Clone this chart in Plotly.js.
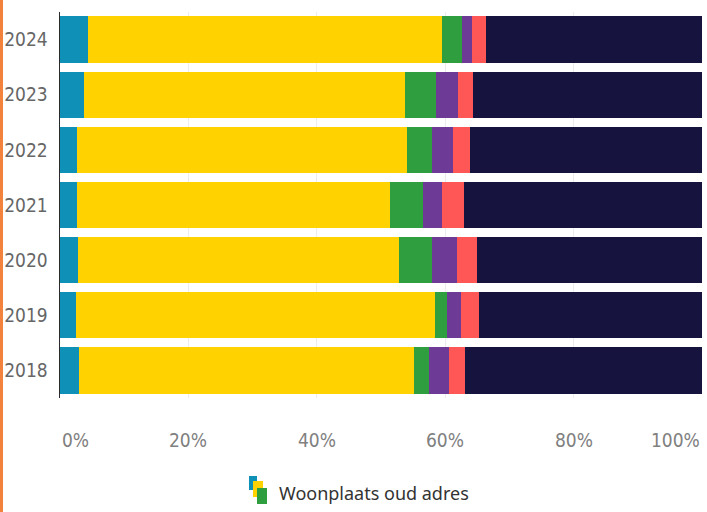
<!DOCTYPE html>
<html>
<head>
<meta charset="utf-8">
<script src="https://cdn.plot.ly/plotly-3.0.1.min.js"></script>
<style>
  html, body { margin: 0; padding: 0; background: #ffffff; overflow: hidden; }
  #border { position: absolute; left: 0; top: 0; width: 3px; height: 512px; background: #f3823c; z-index: 5; }
  #chart { position: absolute; left: 0; top: 0; width: 707px; height: 512px; }
</style>
</head>
<body>
<div id="border"></div>
<div id="chart"></div>
<script>
// Categories (bottom to top as Plotly draws them)
const years = ['2018', '2019', '2020', '2021', '2022', '2023', '2024'];

// Series values in %
const teal   = [3.0, 2.5, 2.8, 2.6, 2.6, 3.7, 4.4];
const yellow = [52.1, 55.9, 50.0, 48.8, 51.5, 50.0, 55.1];
const green  = [2.4, 1.9, 5.2, 5.2, 3.8, 4.8, 3.1];
const purple = [3.1, 2.2, 3.8, 2.9, 3.3, 3.5, 1.5];
const red    = [2.5, 2.7, 3.1, 3.4, 2.6, 2.3, 2.3];
const navy   = [36.9, 34.8, 35.1, 37.1, 36.2, 35.7, 33.6];

const seriesNames = ['Categorie 1', 'Categorie 2', 'Categorie 3', 'Categorie 4', 'Categorie 5', 'Categorie 6'];
const seriesColors = ['#0f90b6', '#ffd200', '#2f9e3f', '#6d3a96', '#ff5656', '#16133f'];

// Axis ticks
const tickVals = [0, 20, 40, 60, 80, 100];
const tickText = ['0%', '20%', '40%', '60%', '80%', '100%'];

const legendText = 'Woonplaats oud adres';

const allSeries = [teal, yellow, green, purple, red, navy];
const traces = allSeries.map((vals, i) => ({
  type: 'bar',
  orientation: 'h',
  y: years,
  x: vals,
  name: seriesNames[i],
  marker: { color: seriesColors[i], line: { width: 0 } },
  showlegend: false,
  hovertemplate: '%{y}: %{x}%<extra>' + seriesNames[i] + '</extra>'
}));

// Plot-area geometry helpers for legend icon (paper coords)
const L = 60, R = 5, T = 12, B = 114, W = 707, H = 512;
const pw = W - L - R, ph = H - T - B;
const px = v => (v - L) / pw;
const py = v => (H - B - v) / ph;

const tickFont = { family: '"DejaVu Sans Condensed", "DejaVu Sans", sans-serif', size: 19, color: '#808080' };

const annotations = tickVals.map((v, i) => ({
  xref: 'x', yref: 'paper',
  x: v, y: py(440),
  text: tickText[i],
  showarrow: false,
  xanchor: i === 0 ? 'left' : (i === tickVals.length - 1 ? 'right' : 'center'),
  yanchor: 'middle',
  font: tickFont
}));
annotations.push({
  xref: 'paper', yref: 'paper',
  x: px(277), y: py(493),
  text: legendText,
  showarrow: false,
  xanchor: 'left', yanchor: 'middle',
  font: { family: '"Noto Sans", sans-serif', size: 18, color: '#333333' }
});

const shapes = [
  { type: 'rect', xref: 'paper', yref: 'paper', x0: px(249), x1: px(257), y0: py(476), y1: py(490), fillcolor: seriesColors[0], line: { width: 0 } },
  { type: 'rect', xref: 'paper', yref: 'paper', x0: px(253), x1: px(263), y0: py(481), y1: py(497), fillcolor: seriesColors[1], line: { width: 0 } },
  { type: 'rect', xref: 'paper', yref: 'paper', x0: px(257), x1: px(267), y0: py(488), y1: py(504), fillcolor: seriesColors[2], line: { width: 0 } }
];

const layout = {
  width: W, height: H,
  margin: { l: L, r: R, t: T, b: B },
  paper_bgcolor: '#ffffff',
  plot_bgcolor: '#ffffff',
  barmode: 'stack',
  bargap: 0.16,
  showlegend: false,
  xaxis: {
    range: [0, 100],
    tickvals: tickVals,
    showticklabels: false,
    showgrid: true,
    gridcolor: '#ececec',
    gridwidth: 1,
    zeroline: false,
    showline: false,
    fixedrange: true
  },
  yaxis: {
    type: 'category',
    categoryorder: 'array',
    categoryarray: years,
    showline: true,
    linecolor: '#2a2a2a',
    linewidth: 1.5,
    showgrid: false,
    ticks: '',
    ticklabelstandoff: 7,
    tickfont: Object.assign({}, tickFont, { color: '#666666' }),
    fixedrange: true
  },
  annotations: annotations,
  shapes: shapes
};

Plotly.newPlot('chart', traces, layout, { displayModeBar: false, staticPlot: true });
</script>
</body>
</html>
